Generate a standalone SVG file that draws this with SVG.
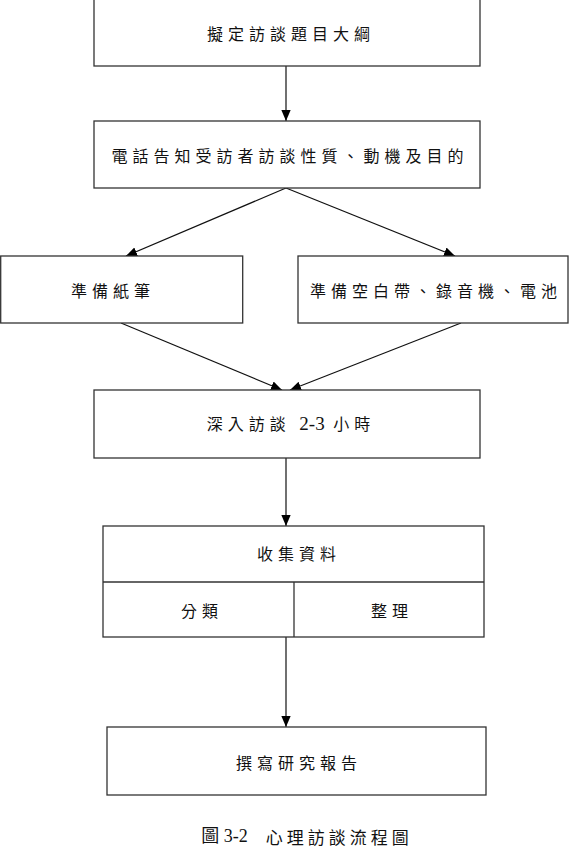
<svg xmlns="http://www.w3.org/2000/svg" width="571" height="862" viewBox="0 0 571 862">
<style>
.box{fill:#fff;stroke:#333;stroke-width:1.3}
.t{font-family:"Noto Sans CJK TC","Noto Sans CJK SC",sans-serif;font-size:16px;fill:#111;text-anchor:middle;dominant-baseline:central;letter-spacing:5px}
.c{stroke:#111;stroke-width:1.2;fill:none;marker-end:url(#ah)}
.cap{font-family:"Liberation Serif","Noto Sans CJK TC",serif;font-size:18px;fill:#111;text-anchor:middle;dominant-baseline:central}
</style>
<defs>
<marker id="ah" markerWidth="11" markerHeight="13" refX="13" refY="5.5" viewBox="0 0 13 11" orient="auto" markerUnits="userSpaceOnUse">
<path d="M0,0 L13,5.5 L0,11 Z" fill="#000"/>
</marker>
</defs>
<rect width="571" height="862" fill="#fff"/>
<g id="connectors">
<line class="c" x1="286" y1="66" x2="286" y2="121"/>
<line class="c" x1="286" y1="188" x2="126" y2="256"/>
<line class="c" x1="286" y1="188" x2="455" y2="256"/>
<line class="c" x1="121" y1="323" x2="282" y2="390"/>
<line class="c" x1="461" y1="323" x2="290" y2="390"/>
<line class="c" x1="286" y1="458" x2="286" y2="526"/>
<line class="c" x1="286" y1="637" x2="286" y2="727"/>
</g>
<g id="n1"><rect class="box" x="94" y="-2" width="386" height="68"/><text class="t" x="291" y="33">擬定訪談題目大綱</text></g>
<g id="n2"><rect class="box" x="94" y="121" width="386" height="67"/><text class="t" x="290" y="155">電話告知受訪者訪談性質、動機及目的</text></g>
<g id="n3"><rect class="box" x="0.7" y="256" width="242" height="67"/><text class="t" x="113" y="290">準備紙筆</text></g>
<g id="n4"><rect class="box" x="298" y="256" width="270" height="67"/><text class="t" x="436" y="290">準備空白帶、錄音機、電池</text></g>
<g id="n5"><rect class="box" x="94" y="390" width="386" height="68"/><text class="t" x="291" y="423">深入訪談 <tspan font-family="Liberation Serif" font-size="19" letter-spacing="0">2-3</tspan> 小時</text></g>
<g id="n6"><rect class="box" x="103" y="526" width="381" height="111"/><line class="box" x1="103" y1="582" x2="484" y2="582"/><line class="box" x1="294" y1="582" x2="294" y2="637"/>
<text class="t" x="299" y="553">收集資料</text><text class="t" x="202" y="610">分類</text><text class="t" x="392" y="610">整理</text></g>
<g id="n7"><rect class="box" x="107" y="727" width="379" height="68"/><text class="t" x="299" y="762">撰寫研究報告</text></g>
<text class="cap" x="307" y="836">圖 3-2　<tspan font-family="Noto Sans CJK TC" font-size="17" letter-spacing="4">心理訪談流程圖</tspan></text>
</svg>
